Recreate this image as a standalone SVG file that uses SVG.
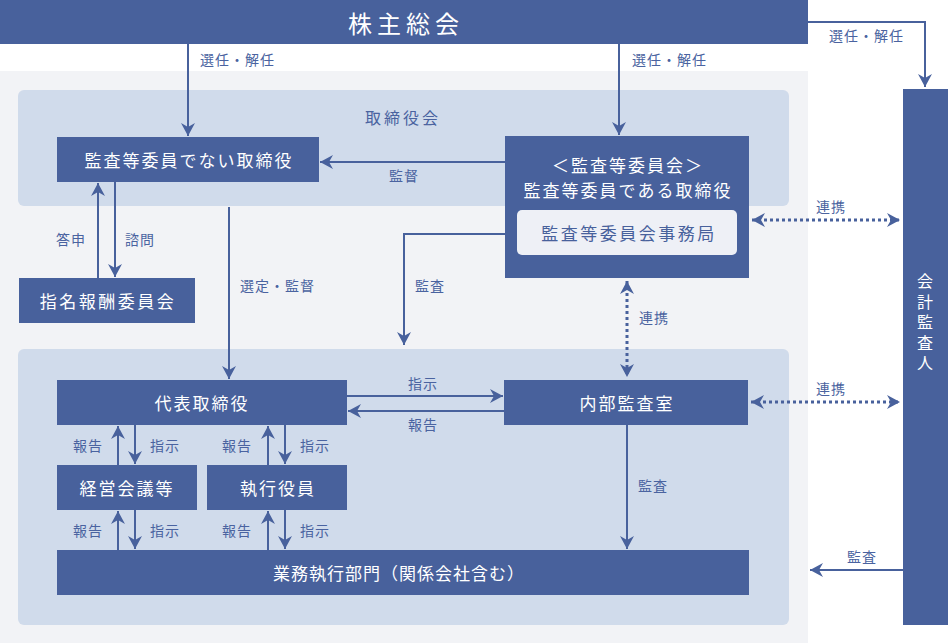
<svg xmlns="http://www.w3.org/2000/svg" width="948" height="643" viewBox="0 0 948 643">
<style>
.node{fill:#48619c}
.nt{fill:#fff;font-family:"Noto Sans CJK JP","Noto Sans",sans-serif;font-size:17px;letter-spacing:2px;text-anchor:middle;dominant-baseline:central}
.lb{fill:#4a63a0;font-family:"Noto Sans CJK JP","Noto Sans",sans-serif;font-size:14px;letter-spacing:1px;dominant-baseline:central}
.ln{fill:none;stroke:#48619c;stroke-width:2}
.dt{fill:none;stroke:#48619c;stroke-width:3;stroke-dasharray:3 3}
</style>
<defs>
<marker id="ah" viewBox="-14 -8 16 16" refX="0" refY="0" markerWidth="16" markerHeight="16" markerUnits="userSpaceOnUse" orient="auto-start-reverse">
<path d="M0,0 L-13,-7 L-9,0 L-13,7 Z" fill="#48619c"/>
</marker>
</defs>
<rect x="0" y="0" width="948" height="643" fill="#fff"/>
<rect x="0" y="71" width="808" height="572" fill="#f2f3f6"/>
<g id="board">
<rect x="18" y="90" width="771" height="116" rx="6" fill="#d0dbeb"/>
<text x="403" y="117" class="lb" style="font-size:16px;letter-spacing:3px" text-anchor="middle">取締役会</text>
</g>
<g id="exec-area">
<rect x="18" y="349" width="771" height="276" rx="6" fill="#d0dbeb"/>
</g>
<g id="shareholders">
<rect x="0" y="0" width="808" height="44" class="node"/>
<text x="406" y="22" class="nt" style="font-size:24px;letter-spacing:5px">株主総会</text>
</g>
<g id="auditor">
<rect x="903" y="89" width="45" height="536" class="node"/>
<text x="925" y="273" writing-mode="vertical-rl" style="fill:#fff;font-family:'Noto Sans CJK JP','Noto Sans',sans-serif;font-size:16px;letter-spacing:4.5px">会計監査人</text>
</g>
<g id="non-audit-directors">
<rect x="57" y="137" width="262" height="45" class="node"/>
<text x="189" y="159" class="nt">監査等委員でない取締役</text>
</g>
<g id="nomination">
<rect x="19" y="278" width="176" height="45" class="node"/>
<text x="108" y="300" class="nt" style="letter-spacing:2.5px">指名報酬委員会</text>
</g>
<g id="audit-committee">
<rect x="505" y="136" width="244" height="142" class="node"/>
<text x="628" y="164" class="nt">＜監査等委員会＞</text>
<text x="628" y="189" class="nt">監査等委員である取締役</text>
<rect x="517" y="210" width="220" height="45" rx="5" fill="#eef0f6"/>
<text x="629" y="232" class="nt" style="fill:#48619c;letter-spacing:2.5px">監査等委員会事務局</text>
</g>
<g id="ceo">
<rect x="57" y="380" width="290" height="45" class="node"/>
<text x="202" y="402" class="nt">代表取締役</text>
</g>
<g id="management-meeting">
<rect x="57" y="465" width="140" height="45" class="node"/>
<text x="127" y="487" class="nt">経営会議等</text>
</g>
<g id="executive-officers">
<rect x="207" y="465" width="140" height="45" class="node"/>
<text x="278" y="487" class="nt">執行役員</text>
</g>
<g id="business-units">
<rect x="57" y="550" width="692" height="45" class="node"/>
<text x="399" y="572" class="nt" style="letter-spacing:1px">業務執行部門（関係会社含む）</text>
</g>
<g id="internal-audit">
<rect x="504" y="380" width="244" height="45" class="node"/>
<text x="627" y="402" class="nt">内部監査室</text>
</g>
<g id="connectors">
<path class="ln" d="M188,44 V136" marker-end="url(#ah)"/>
<text x="200" y="59" class="lb">選任・解任</text>
<path class="ln" d="M619,44 V135" marker-end="url(#ah)"/>
<text x="632" y="59" class="lb">選任・解任</text>
<path class="ln" d="M808,22 H925 V87" marker-end="url(#ah)"/>
<text x="829" y="35" class="lb">選任・解任</text>
<path class="ln" d="M505,162 H320" marker-end="url(#ah)"/>
<text x="389" y="175" class="lb">監督</text>
<path class="ln" d="M505,234 H404 V345" marker-end="url(#ah)"/>
<text x="415" y="285" class="lb">監査</text>
<path class="ln" d="M229,207 V379" marker-end="url(#ah)"/>
<text x="240" y="285" class="lb">選定・監督</text>
<path class="ln" d="M98,278 V183" marker-end="url(#ah)"/>
<text x="56" y="239" class="lb">答申</text>
<path class="ln" d="M115,182 V277" marker-end="url(#ah)"/>
<text x="125" y="239" class="lb">諮問</text>
<path class="dt" d="M627,281 V377" marker-start="url(#ah)" marker-end="url(#ah)"/>
<text x="639" y="317" class="lb">連携</text>
<path class="dt" d="M752,220 H900" marker-start="url(#ah)" marker-end="url(#ah)"/>
<text x="816" y="206" class="lb">連携</text>
<path class="dt" d="M751,402 H900" marker-start="url(#ah)" marker-end="url(#ah)"/>
<text x="816" y="388" class="lb">連携</text>
<path class="ln" d="M347,396 H503" marker-end="url(#ah)"/>
<text x="408" y="383" class="lb">指示</text>
<path class="ln" d="M504,411 H348" marker-end="url(#ah)"/>
<text x="408" y="424" class="lb">報告</text>
<path class="ln" d="M627,425 V549" marker-end="url(#ah)"/>
<text x="638" y="485" class="lb">監査</text>
<path class="ln" d="M903,570 H810" marker-end="url(#ah)"/>
<text x="847" y="556" class="lb">監査</text>
<path class="ln" d="M118,465 V426" marker-end="url(#ah)"/>
<path class="ln" d="M135,425 V464" marker-end="url(#ah)"/>
<text x="73" y="445" class="lb">報告</text>
<text x="150" y="445" class="lb">指示</text>
<path class="ln" d="M268,465 V426" marker-end="url(#ah)"/>
<path class="ln" d="M285,425 V464" marker-end="url(#ah)"/>
<text x="222" y="445" class="lb">報告</text>
<text x="300" y="445" class="lb">指示</text>
<path class="ln" d="M118,550 V511" marker-end="url(#ah)"/>
<path class="ln" d="M135,510 V549" marker-end="url(#ah)"/>
<text x="73" y="530" class="lb">報告</text>
<text x="150" y="530" class="lb">指示</text>
<path class="ln" d="M268,550 V511" marker-end="url(#ah)"/>
<path class="ln" d="M285,510 V549" marker-end="url(#ah)"/>
<text x="222" y="530" class="lb">報告</text>
<text x="300" y="530" class="lb">指示</text>
</g>
</svg>
